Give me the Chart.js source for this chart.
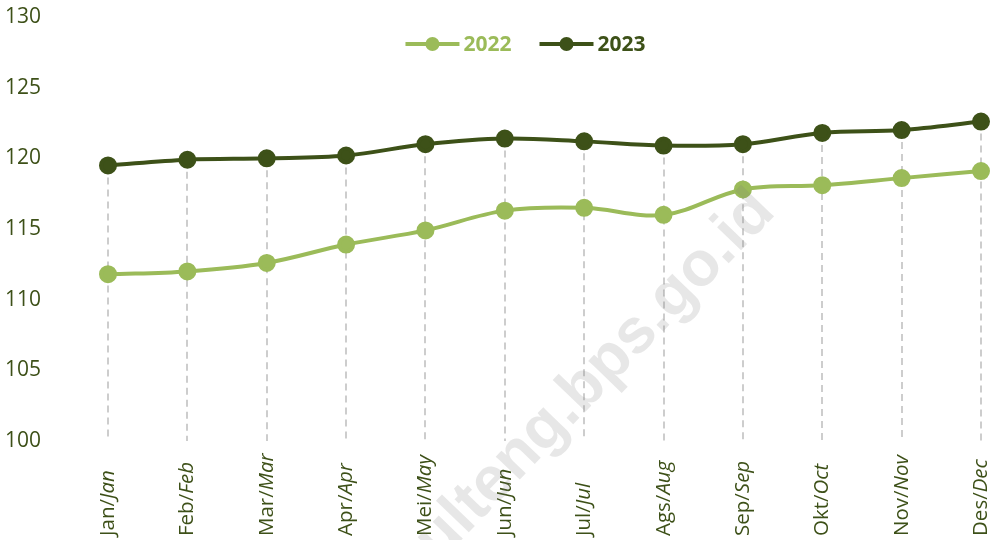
<!DOCTYPE html>
<html>
<head>
<meta charset="utf-8">
<script src="https://cdn.jsdelivr.net/npm/chart.js@4/dist/chart.umd.min.js"></script>
<style>
  html, body { margin: 0; padding: 0; background: #ffffff; }
  #wrap { width: 992px; height: 540px; position: relative; }
</style>
</head>
<body>
<div id="wrap"><canvas id="c" width="992" height="540"></canvas></div>
<script>
// ---- data ----
const monthsId = ["Jan", "Feb", "Mar", "Apr", "Mei", "Jun", "Jul", "Ags", "Sep", "Okt", "Nov", "Des"];
const monthsEn = ["Jan", "Feb", "Mar", "Apr", "May", "Jun", "Jul", "Aug", "Sep", "Oct", "Nov", "Dec"];
const categories = monthsId.map((m, i) => m + "/" + monthsEn[i]);
const values2022 = [111.8, 112.0, 112.6, 113.9, 114.9, 116.3, 116.5, 116.0, 117.8, 118.1, 118.6, 119.1];
const values2023 = [119.5, 119.9, 120.0, 120.2, 121.0, 121.4, 121.2, 120.9, 121.0, 121.8, 122.0, 122.6];
const seriesNames = ["2022", "2023"];
const yTicks = { min: 100, max: 130, step: 5 };
const watermarkText = "sulteng.bps.go.id";

// ---- styles ----
const colLight = "#9bbb59";
const colDark = "#3d5118";
const textCol = "#3d5018";
const baseFont = "'Open Sans', 'Noto Sans', sans-serif";

// drop lines from the upper series down to the axis
const dropLines = {
  id: "dropLines",
  beforeDatasetsDraw(chart) {
    const meta = chart.getDatasetMeta(1);
    const ctx = chart.ctx;
    const bottom = chart.chartArea.bottom;
    ctx.save();
    ctx.strokeStyle = "#cdcdcd";
    ctx.lineWidth = 2;
    ctx.setLineDash([7, 5]);
    meta.data.forEach(pt => {
      ctx.beginPath();
      ctx.moveTo(Math.round(pt.x), pt.y);
      ctx.lineTo(Math.round(pt.x), bottom);
      ctx.stroke();
    });
    ctx.restore();
  }
};

// x labels: vertical, "Id/" upright + "En" italic, anchored at the bottom
const xLabels = {
  id: "xLabels",
  afterDraw(chart) {
    const ctx = chart.ctx;
    const xs = chart.scales.x;
    const yStart = chart.height - 4;
    ctx.save();
    ctx.fillStyle = textCol;
    ctx.textBaseline = "alphabetic";
    ctx.textAlign = "left";
    monthsId.forEach((m, i) => {
      const x = xs.getPixelForValue(i) + 6;
      ctx.save();
      ctx.translate(x, yStart);
      ctx.rotate(-Math.PI / 2);
      const p1 = m + "/";
      ctx.font = "20.5px " + baseFont;
      ctx.fillText(p1, 0, 0);
      const w = ctx.measureText(p1).width;
      ctx.font = "italic 20.5px " + baseFont;
      ctx.fillText(monthsEn[i], w, 0);
      ctx.restore();
    });
    ctx.restore();
  }
};

// legend: line + marker, bold coloured text
const customLegend = {
  id: "customLegend",
  afterDraw(chart) {
    const ctx = chart.ctx;
    const ca = chart.chartArea;
    const cy = 44;
    const symW = 54;
    ctx.save();
    ctx.font = "bold 21px " + baseFont;
    const items = chart.data.datasets.map(ds => ({
      label: ds.label, color: ds.borderColor, tw: ctx.measureText(ds.label).width
    }));
    const gapSymText = 4, gapItems = 28;
    let total = 0;
    items.forEach((it, i) => { total += symW + gapSymText + it.tw + (i ? gapItems : 0); });
    let x = (ca.left + ca.right) / 2 - 19 - total / 2;
    items.forEach((it, i) => {
      if (i) x += gapItems;
      ctx.strokeStyle = it.color;
      ctx.lineWidth = 4;
      ctx.beginPath();
      ctx.moveTo(x, cy);
      ctx.lineTo(x + symW, cy);
      ctx.stroke();
      ctx.fillStyle = it.color;
      ctx.beginPath();
      ctx.arc(x + symW / 2, cy, 7, 0, Math.PI * 2);
      ctx.fill();
      x += symW + gapSymText;
      ctx.textAlign = "left";
      ctx.textBaseline = "middle";
      ctx.fillText(it.label, x, cy + 1);
      x += it.tw;
    });
    ctx.restore();
  }
};

// watermark
const watermark = {
  id: "watermark",
  afterDraw(chart) {
    const ctx = chart.ctx;
    ctx.save();
    ctx.translate(chart.width * 0.588, chart.height * 0.72);
    ctx.rotate(-46 * Math.PI / 180);
    ctx.font = "bold 63px 'Liberation Sans', Arial, sans-serif";
    ctx.fillStyle = "rgba(120,120,120,0.18)";
    ctx.textAlign = "center";
    ctx.textBaseline = "middle";
    ctx.fillText(watermarkText, 0, 0);
    ctx.restore();
  }
};

new Chart(document.getElementById("c"), {
  type: "line",
  data: {
    labels: categories,
    datasets: [
      {
        label: seriesNames[0], data: values2022,
        borderColor: colLight, backgroundColor: colLight,
        pointBackgroundColor: colLight, pointBorderColor: colLight,
        borderWidth: 4, pointRadius: 7, pointHoverRadius: 7,
        tension: 0.35, clip: false, fill: false
      },
      {
        label: seriesNames[1], data: values2023,
        borderColor: colDark, backgroundColor: colDark,
        pointBackgroundColor: colDark, pointBorderColor: colDark,
        borderWidth: 4, pointRadius: 7, pointHoverRadius: 7,
        tension: 0.35, clip: false, fill: false
      }
    ]
  },
  options: {
    responsive: false,
    animation: false,
    layout: { padding: { left: 5, right: 11, top: 17, bottom: 0 } },
    plugins: {
      legend: { display: false },
      tooltip: { enabled: false }
    },
    scales: {
      x: {
        offset: false,
        grid: { display: false },
        border: { display: false },
        ticks: { display: false },
        afterFit: s => { s.height = 99; }
      },
      y: {
        min: yTicks.min, max: yTicks.max,
        grid: { display: false },
        border: { display: false },
        ticks: {
          stepSize: yTicks.step,
          color: textCol,
          font: { family: baseFont, size: 21 },
          crossAlign: "far",
          padding: 0
        },
        afterFit: s => { s.width = 103; }
      }
    }
  },
  plugins: [dropLines, xLabels, customLegend, watermark]
});
</script>
</body>
</html>
